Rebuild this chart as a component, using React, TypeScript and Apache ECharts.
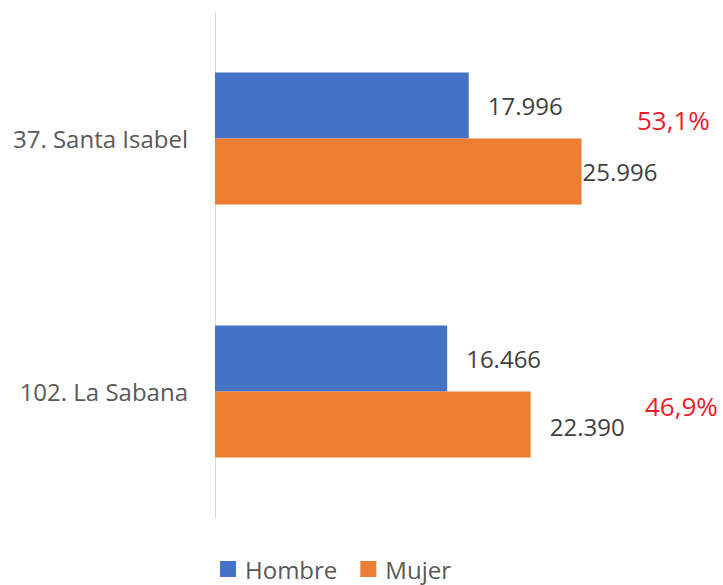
import React, { useEffect, useRef } from "react";
import * as echarts from "echarts";

const categories = ["37. Santa Isabel", "102. La Sabana"];
const hombre = [17996, 16466];
const mujer = [25996, 22390];
const percentLabels = ["53,1%", "46,9%"];
const seriesNames = ["Hombre", "Mujer"];

const FONT = "'Open Sans', sans-serif";

function fmt(v: number): string {
  return String(v).replace(/\B(?=(\d{3})+(?!\d))/g, ".");
}

export default function App() {
  const ref = useRef<HTMLDivElement>(null);
  useEffect(() => {
    if (!ref.current) return;
    const chart = echarts.init(ref.current, null, { renderer: "svg" });
    const labelBase = {
      show: true,
      position: "right" as const,
      distance: 19,
      fontSize: 24,
      fontFamily: FONT,
      color: "#404040",
      formatter: (p: any) => fmt(p.value),
    };
    chart.setOption({
      animation: false,
      textStyle: { fontFamily: FONT },
      grid: { left: 215, right: 14.5, top: 12, bottom: 67, containLabel: false },
      xAxis: {
        type: "value",
        min: 0,
        max: 35000,
        show: false,
        splitLine: { show: false },
      },
      yAxis: {
        type: "category",
        inverse: true,
        data: categories,
        axisLine: { show: true, lineStyle: { color: "#d9d9d9", width: 1 } },
        axisTick: { show: false },
        axisLabel: { fontSize: 24, fontFamily: FONT, color: "#595959", margin: 27 },
      },
      legend: {
        data: seriesNames,
        left: 220,
        top: 557,
        padding: 0,
        icon: "rect",
        itemWidth: 16,
        itemHeight: 16,
        itemGap: 23,
        textStyle: {
          fontSize: 24,
          lineHeight: 24,
          fontFamily: FONT,
          color: "#595959",
          padding: [0, 0, 0, 4],
        },
      },
      series: [
        {
          name: seriesNames[0],
          type: "bar",
          data: hombre,
          barWidth: 66,
          barGap: "0%",
          itemStyle: { color: "#4472C4" },
          label: labelBase,
        },
        {
          name: seriesNames[1],
          type: "bar",
          data: mujer.map((v, i) =>
            i === 0 ? { value: v, label: { distance: 1 } } : { value: v, label: { offset: [0, 2] } }
          ),
          barWidth: 66,
          barGap: "0%",
          itemStyle: { color: "#ED7D31" },
          label: labelBase,
        },
      ],
      graphic: [
        {
          type: "text",
          left: 637,
          top: 107,
          style: { text: percentLabels[0], fontSize: 26, fontFamily: FONT, fill: "#F01C28" },
        },
        {
          type: "text",
          left: 645,
          top: 393,
          style: { text: percentLabels[1], fontSize: 26, fontFamily: FONT, fill: "#F01C28" },
        },
      ],
    });
    return () => chart.dispose();
  }, []);
  return <div ref={ref} style={{ width: 723, height: 585, position: "absolute", left: 0, top: 0 }} />;
}
